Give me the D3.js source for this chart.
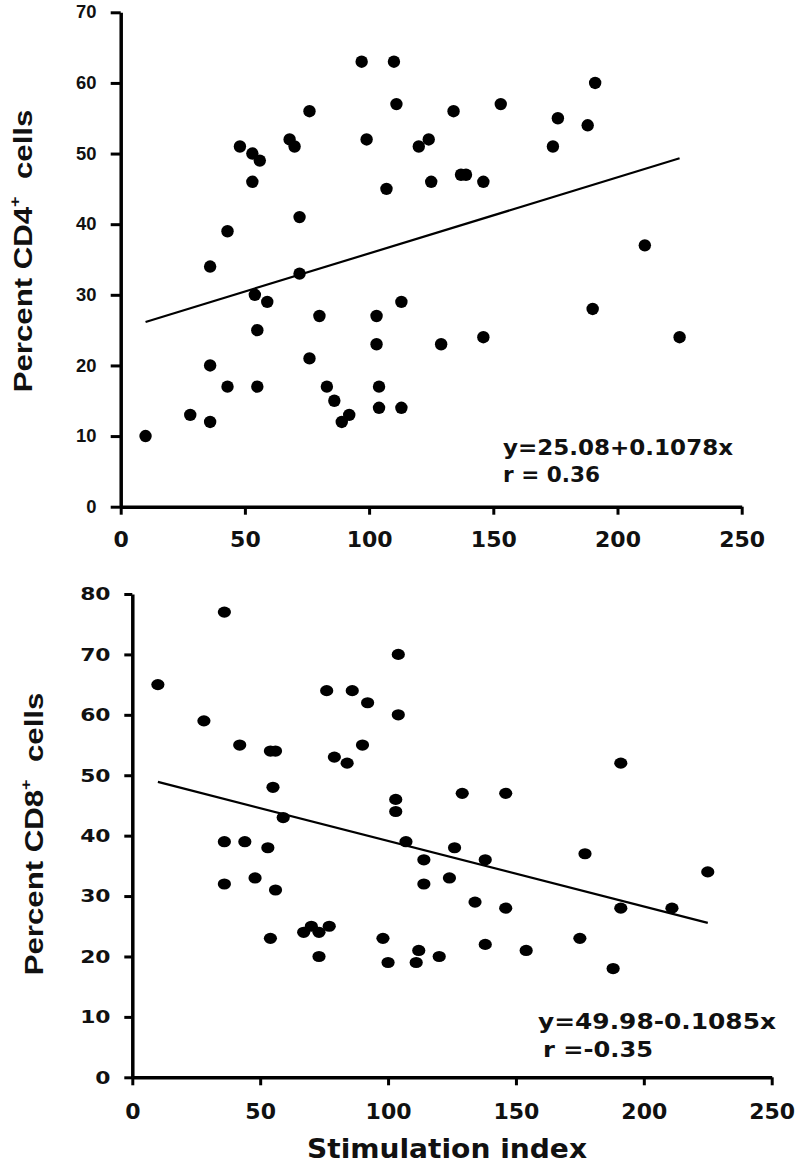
<!DOCTYPE html>
<html>
<head>
<meta charset="utf-8">
<script src="https://cdn.jsdelivr.net/npm/d3@7"></script>
<style>
  html, body { margin: 0; padding: 0; background: #fff; }
  svg { display: block; }
</style>
</head>
<body>
<div id="chart"></div>
<script>
// ---------- DATA ----------
// Top panel: stimulation index vs percent CD4+ cells
const cd4Stim = [10, 28, 36, 36, 36, 43, 43, 48, 53, 53, 54, 55, 55, 56, 59, 68, 70, 72, 72, 76, 76, 80, 83, 86, 89, 92, 97, 99, 103, 103, 104, 104, 107, 110, 111, 113, 113, 120, 124, 125, 129, 134, 137, 139, 146, 146, 153, 174, 176, 188, 190, 191, 211, 225];
const cd4Pct  = [10, 13, 12, 20, 34, 17, 39, 51, 50, 46, 30, 25, 17, 49, 29, 52, 51, 41, 33, 56, 21, 27, 17, 15, 12, 13, 63, 52, 27, 23, 17, 14, 45, 63, 57, 29, 14, 51, 52, 46, 23, 56, 47, 47, 46, 24, 57, 51, 55, 54, 28, 60, 37, 24];
const cd4Fit = [25.08, 0.1078];        // intercept, slope
const cd4FitRange = [10, 225];
const cd4Labels = ["y=25.08+0.1078x", "r = 0.36"];

// Bottom panel: stimulation index vs percent CD8+ cells
const cd8Stim = [10, 28, 36, 36, 36, 42, 44, 48, 53, 54, 56, 55, 56, 54, 59, 67, 70, 73, 73, 77, 76, 79, 84, 86, 90, 92, 98, 100, 104, 104, 103, 103, 107, 111, 112, 114, 114, 120, 124, 126, 129, 134, 138, 138, 146, 146, 154, 175, 177, 188, 191, 191, 211, 225];
const cd8Pct  = [65, 59, 77, 39, 32, 55, 39, 33, 38, 54, 54, 48, 31, 23, 43, 24, 25, 24, 20, 25, 64, 53, 52, 64, 55, 62, 23, 19, 70, 60, 46, 44, 39, 19, 21, 36, 32, 20, 33, 38, 47, 29, 36, 22, 47, 28, 21, 23, 37, 18, 52, 28, 28, 34];
const cd8Fit = [49.98, -0.1085];
const cd8FitRange = [10, 225];
const cd8Labels = ["y=49.98-0.1085x", "r =-0.35"];

// Axis ticks
const xTicks = [0, 50, 100, 150, 200, 250];
const cd4YTicks = [0, 10, 20, 30, 40, 50, 60, 70];
const cd8YTicks = [0, 10, 20, 30, 40, 50, 60, 70, 80];
const xTitle = "Stimulation index";

// ---------- DRAW ----------
const W = 800, H = 1164;
const svg = d3.select("#chart").append("svg").attr("width", W).attr("height", H)
  .style("background", "#fff");

const VERD = "'DejaVu Sans', Verdana, sans-serif";
const ARIAL = "'Liberation Sans', Arial, sans-serif";

function panel(opt) {
  const g = svg.append("g");
  const x = d3.scaleLinear().domain([0, 250]).range(opt.xRange);
  const y = d3.scaleLinear().domain(opt.yDomain).range(opt.yRange);

  // regression line
  const fit = opt.fit;
  const linePts = opt.fitRange.map(v => [v, fit[0] + fit[1] * v]);
  g.append("path")
    .attr("d", d3.line().x(d => x(d[0])).y(d => y(d[1]))(linePts))
    .attr("stroke", "#000").attr("stroke-width", 2.2).attr("fill", "none");

  // points
  g.append("g").selectAll("ellipse").data(opt.xs.map((v, i) => [v, opt.ys[i]]))
    .join("ellipse")
    .attr("cx", d => x(d[0])).attr("cy", d => y(d[1]))
    .attr("rx", opt.rx).attr("ry", opt.ry)
    .attr("fill", "#000");

  // x axis
  const xa = g.append("g").attr("transform", `translate(0,${opt.yRange[0]})`)
    .call(d3.axisBottom(x).tickValues(xTicks).tickSize(8).tickSizeOuter(0).tickPadding(opt.xPad));
  xa.select(".domain").attr("stroke", "#000").attr("stroke-width", 3.5);
  xa.selectAll(".tick line").attr("stroke", "#000").attr("stroke-width", 3);
  xa.selectAll(".tick text").attr("fill", "#111")
    .style("font-family", VERD).style("font-weight", "bold").style("font-size", opt.xFont + "px");

  // y axis
  const ya = g.append("g").attr("transform", `translate(${opt.xRange[0]},0)`)
    .call(d3.axisLeft(y).tickValues(opt.yTicks).tickSize(opt.yTickLen).tickSizeOuter(0).tickPadding(opt.yPad));
  ya.select(".domain").attr("stroke", "#000").attr("stroke-width", 3.5);
  ya.selectAll(".tick line").attr("stroke", "#000").attr("stroke-width", 3);
  ya.selectAll(".tick text").attr("fill", "#111")
    .style("font-family", opt.yFontFamily).style("font-weight", "bold").style("font-size", opt.yFont + "px")
    .attr("transform", `scale(${opt.yScaleX},1)`);

  // y title
  const yt = g.append("text")
    .attr("transform", `translate(${opt.yTitlePos[0]},${opt.yTitlePos[1]}) rotate(-90) scale(1.2,1)`)
    .attr("text-anchor", "middle")
    .style("font-family", ARIAL).style("font-weight", "bold").style("font-size", "26px")
    .attr("fill", "#111");
  yt.append("tspan").text(opt.yTitle[0]);
  yt.append("tspan").attr("dy", -12).style("font-size", "15px").text("+");
  yt.append("tspan").attr("dy", 12).text("\u00a0 " + opt.yTitle[1]);

  // equation text
  opt.labels.forEach((t, i) => {
    g.append("text")
      .attr("x", opt.labelPos[i][0]).attr("y", opt.labelPos[i][1])
      .attr("textLength", opt.labelLen[i]).attr("lengthAdjust", "spacingAndGlyphs")
      .style("font-family", VERD).style("font-weight", "bold").style("font-size", "21px")
      .attr("fill", "#111")
      .text(t);
  });
}

panel({
  xs: cd4Stim, ys: cd4Pct, fit: cd4Fit, fitRange: cd4FitRange,
  xRange: [120.7, 741.7], yDomain: [0, 70], yRange: [506.7, 12.3],
  yTicks: cd4YTicks, yTickLen: 10, yPad: 13, yFont: 17.5, yFontFamily: ARIAL, yScaleX: 1.05,
  xPad: 17, xFont: 22, rx: 6.2, ry: 6.2,
  yTitle: ["Percent CD4", "cells"], yTitlePos: [32, 251],
  labels: cd4Labels, labelPos: [[503, 455], [503, 482]], labelLen: [230, 97]
});

panel({
  xs: cd8Stim, ys: cd8Pct, fit: cd8Fit, fitRange: cd8FitRange,
  xRange: [132.3, 771.7], yDomain: [0, 80], yRange: [1077.3, 594],
  yTicks: cd8YTicks, yTickLen: 8, yPad: 10.5, yFont: 18.5, yFontFamily: VERD, yScaleX: 1.18,
  xPad: 18, xFont: 22, rx: 6.6, ry: 5.6,
  yTitle: ["Percent CD8", "cells"], yTitlePos: [43, 834],
  labels: cd8Labels, labelPos: [[538, 1029], [543, 1057]], labelLen: [238, 110]
});

// x title (bottom)
svg.append("text")
  .attr("x", 447).attr("y", 1158)
  .attr("text-anchor", "middle")
  .attr("textLength", 280).attr("lengthAdjust", "spacingAndGlyphs")
  .style("font-family", VERD).style("font-weight", "bold").style("font-size", "26px")
  .attr("fill", "#111")
  .text(xTitle);
</script>
</body>
</html>
